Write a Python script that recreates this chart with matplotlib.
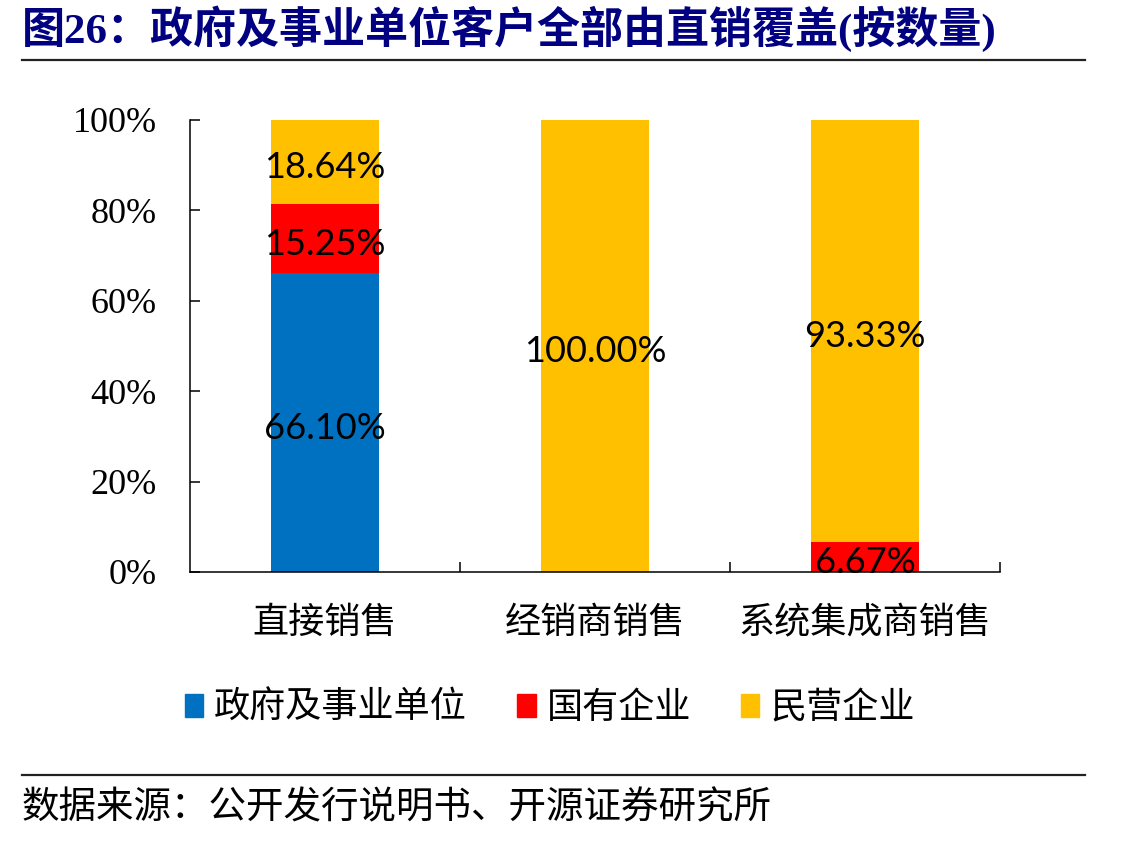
import matplotlib.pyplot as plt
from matplotlib.lines import Line2D
from matplotlib.patches import Patch

plt.rcParams['font.family'] = ['Noto Sans CJK SC', 'DejaVu Sans']

categories = ["直接销售", "经销商销售", "系统集成商销售"]
series_names = ["政府及事业单位", "国有企业", "民营企业"]
gov = [66.10, 0.0, 0.0]
soe = [15.25, 0.0, 6.67]
private = [18.64, 100.00, 93.33]
colors = ["#0070C0", "#FF0000", "#FFC000"]
yticks = [0, 20, 40, 60, 80, 100]

W, H = 1137, 844
fig = plt.figure(figsize=(W / 100, H / 100), dpi=100)
ax = fig.add_axes([190 / W, 1 - 572 / H, 810 / W, 452 / H])

x = list(range(len(categories)))
bottom = [0.0] * len(categories)
for vals, name, c in zip([gov, soe, private], series_names, colors):
    ax.bar(x, vals, width=0.4, bottom=bottom, color=c, label=name)
    for i, v in enumerate(vals):
        if v > 0:
            ax.annotate(f"{v:.2f}%", (i, bottom[i] + v / 2), xytext=(0, -4),
                        textcoords="offset points", ha="center", va="center",
                        fontsize=26, family=["Lato", "DejaVu Sans"], color="black")
    bottom = [b + v for b, v in zip(bottom, vals)]

ax.set_xlim(-0.5, 2.5)
ax.set_ylim(0, 100)
ax.set_yticks(yticks)
ax.set_yticklabels([f"{t}%" for t in yticks], family=["Liberation Serif", "DejaVu Serif"], fontsize=26)
ax.set_xticks(x)
ax.set_xticklabels(categories, fontsize=26)
ax.set_xticks([0.5, 1.5, 2.5], minor=True)
ax.tick_params(axis="x", which="major", length=0, pad=24)
ax.tick_params(axis="x", which="minor", direction="in", length=7, width=1.1)
ax.tick_params(axis="y", direction="in", length=7, width=1.1, pad=24)
for s in ["top", "right"]:
    ax.spines[s].set_visible(False)
for s in ["left", "bottom"]:
    ax.spines[s].set_linewidth(1.1)
    ax.spines[s].set_color("black")

handles = [Patch(color=c, label=n) for c, n in zip(colors, series_names)]
fig.legend(handles=handles, loc="center", bbox_to_anchor=(550 / W, 1 - 708 / H), ncol=3,
           frameon=False, fontsize=26, handlelength=0.5, handleheight=0.6,
           handletextpad=0.3, columnspacing=1.4)

fig.text(22 / W, 1 - 29 / H, "图26：政府及事业单位客户全部由直销覆盖(按数量)", fontsize=31,
         fontweight="bold", color="#000080", va="center", ha="left",
         family=["Liberation Serif", "Noto Sans CJK SC"])
fig.add_artist(Line2D([22 / W, 1085 / W], [1 - 60 / H, 1 - 60 / H], transform=fig.transFigure,
                      color="#222222", linewidth=1.6))
fig.add_artist(Line2D([22 / W, 1085 / W], [1 - 775 / H, 1 - 775 / H], transform=fig.transFigure,
                      color="#222222", linewidth=1.6))
fig.text(22 / W, 1 - 808 / H, "数据来源：公开发行说明书、开源证券研究所", fontsize=27,
         va="center", ha="left")

fig.savefig("out.png", dpi=100)
